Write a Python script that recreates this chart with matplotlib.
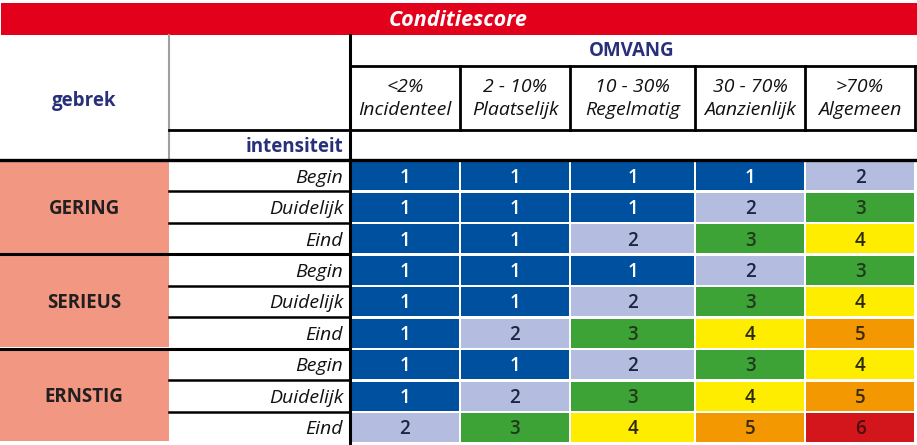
import matplotlib.pyplot as plt
from matplotlib.patches import Rectangle

plt.rcParams['font.family'] = ['Open Sans', 'DejaVu Sans']

title = 'Conditiescore'
omvang_title = 'OMVANG'
omvang_pct = ['<2%', '2 - 10%', '10 - 30%', '30 - 70%', '>70%']
omvang_naam = ['Incidenteel', 'Plaatselijk', 'Regelmatig', 'Aanzienlijk', 'Algemeen']
gebrek = ['GERING', 'SERIEUS', 'ERNSTIG']
intensiteit = ['Begin', 'Duidelijk', 'Eind']
scores = [
    [1, 1, 1, 1, 2],
    [1, 1, 1, 2, 3],
    [1, 1, 2, 3, 4],
    [1, 1, 1, 2, 3],
    [1, 1, 2, 3, 4],
    [1, 2, 3, 4, 5],
    [1, 1, 2, 3, 4],
    [1, 2, 3, 4, 5],
    [2, 3, 4, 5, 6],
]

# colours per score
score_colors = {1: '#0050a0', 2: '#b4bde0', 3: '#3ea336', 4: '#ffed00', 5: '#f39800', 6: '#d2161c'}
score_text = {1: 'white', 2: '#1d2544', 3: '#1f3a1c', 4: '#2a2a10', 5: '#3a2a10', 6: '#4a1010'}
navy = '#28307a'
red = '#e3001b'
salmon = '#f29782'

# layout in pixels
W, H = 917, 445
col_edges = [350, 460, 570, 695, 805, 915]
data_top, data_bot = 160, 443
row_h = (data_bot - data_top) / len(scores)

fig = plt.figure(figsize=(W / 100, H / 100), dpi=100)
ax = fig.add_axes([0, 0, 1, 1])
ax.set_xlim(0, W)
ax.set_ylim(H, 0)
ax.axis('off')

# title bar
ax.add_patch(Rectangle((1, 3), W - 1, 32, color=red, lw=0))
ax.text(W / 2, 21, title, color='white', fontsize=15.5, fontweight='bold',
        style='italic', ha='center', va='center')

# header
ax.text(84, 101, 'gebrek', color=navy, fontsize=13.5, fontweight='bold', ha='center', va='center')
ax.text(632, 51, omvang_title, color=navy, fontsize=13.5, fontweight='bold', ha='center', va='center')
ax.text(343, 147, 'intensiteit', color=navy, fontsize=13.5, fontweight='bold', ha='right', va='center')
ax.plot([169, 169], [35, 160], color='#a0a0a0', lw=1.5)
ax.plot([350, 350], [35, data_bot + 2], color='black', lw=2.2)
ax.plot([350, 915], [66, 66], color='black', lw=2)
ax.plot([169, 915], [130, 130], color='black', lw=2)
for i in range(len(omvang_pct)):
    x0, x1 = col_edges[i], col_edges[i + 1]
    ax.plot([x1, x1], [66, 130], color='black', lw=2)
    ax.text((x0 + x1) / 2, 87, omvang_pct[i], fontsize=14, style='italic', ha='center', va='center', color='#111111')
    ax.text((x0 + x1) / 2, 110, omvang_naam[i], fontsize=14, style='italic', ha='center', va='center', color='#111111')
ax.plot([0, W], [data_top, data_top], color='black', lw=2.4)

# row labels
for g, name in enumerate(gebrek):
    gt = data_top + g * 3 * row_h
    gb = gt + 3 * row_h
    ax.add_patch(Rectangle((0, gt + 1.5), 169, 3 * row_h - 3, color=salmon, lw=0))
    ax.text(84, (gt + gb) / 2 + 1.5, name, fontsize=13.5, fontweight='bold', ha='center', va='center', color='#231f20')
    if g > 0:
        ax.plot([0, 350], [gt, gt], color='black', lw=2.2)
    for k, lab in enumerate(intensiteit):
        yt = gt + k * row_h
        if k > 0:
            ax.plot([169, 350], [yt, yt], color='black', lw=1.8)
        ax.text(343, yt + row_h / 2 + 2, lab, fontsize=14, style='italic', ha='right', va='center', color='#111111')

# score cells
for r, row in enumerate(scores):
    yt = data_top + r * row_h
    for c, v in enumerate(row):
        x0, x1 = col_edges[c], col_edges[c + 1]
        left = x0 + (2 if c == 0 else 1)
        ax.add_patch(Rectangle((left, yt + 1.5), x1 - 1 - left, row_h - 2.5,
                               color=score_colors[v], lw=0))
        ax.text((x0 + x1) / 2, yt + row_h / 2 + 2, str(v), fontsize=13.5, fontweight='semibold',
                ha='center', va='center', color=score_text[v])

fig.savefig('out.png', dpi=100)
